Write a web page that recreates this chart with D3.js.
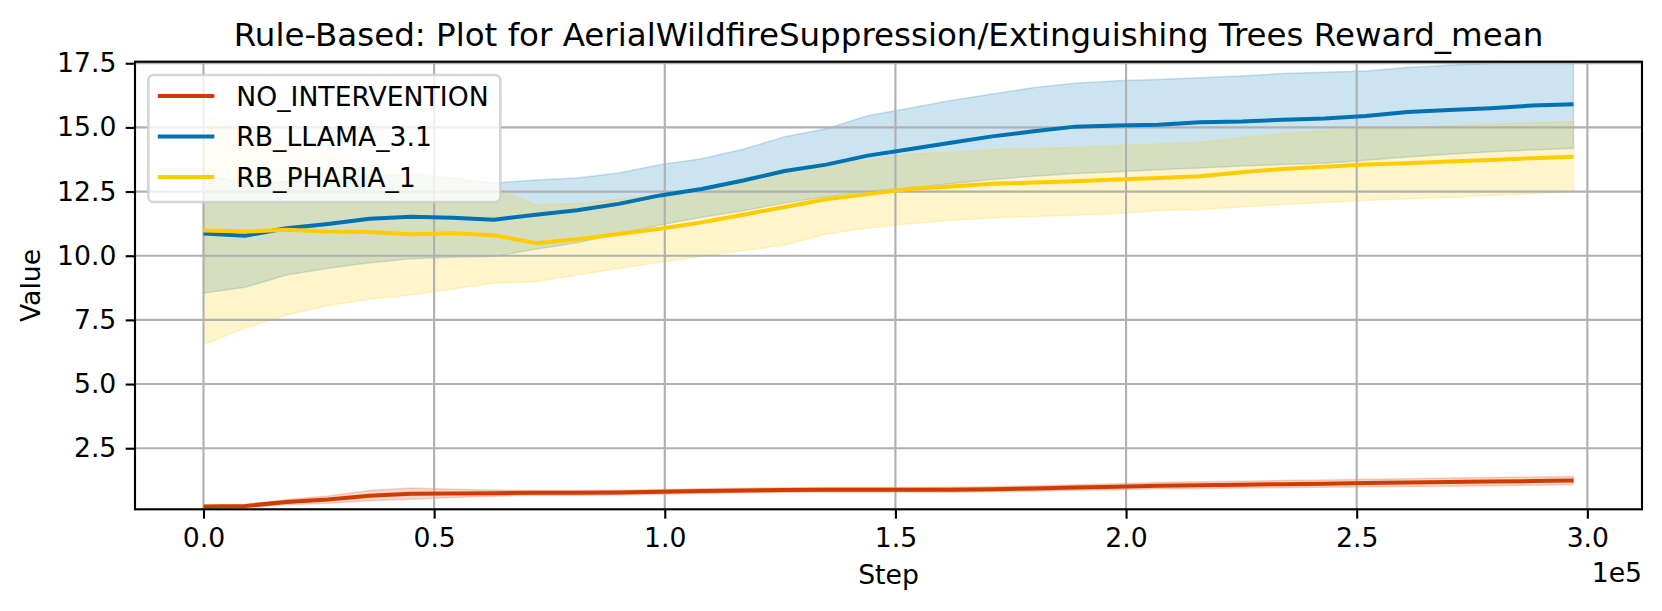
<!DOCTYPE html>
<html lang="en">
<head>
    <meta charset="UTF-8">
    <title>Rule-Based Reward_mean</title>
    <script src="https://d3js.org/d3.v7.min.js"></script>
</head>

<style>
    body {
        margin: 0;
        padding: 0;
        background: #ffffff;
    }

    svg {
        display: block;
        font-family: "DejaVu Sans", sans-serif;
    }
</style>

<body>
<div class="chart-container"></div>

<script>
  /** DATA */
  var steps = [0, 9000, 18000, 27000, 36000, 45000, 54000, 63000, 72000, 81000,
    90000, 99000, 108000, 117000, 126000, 135000, 144000, 153000, 162000, 171000,
    180000, 189000, 198000, 207000, 216000, 225000, 234000, 243000, 252000, 261000,
    270000, 279000, 288000, 297000];

  var seriesNames = ['NO_INTERVENTION', 'RB_LLAMA_3.1', 'RB_PHARIA_1'];
  var seriesColors = ['#d03c00', '#0072b2', '#ffcc00'];

  var noInterventionMean = [0.23, 0.25, 0.40, 0.50, 0.65, 0.73, 0.74, 0.75, 0.76, 0.76,
    0.77, 0.80, 0.83, 0.85, 0.87, 0.88, 0.88, 0.88, 0.88, 0.90,
    0.93, 0.97, 1.00, 1.04, 1.06, 1.08, 1.10, 1.12, 1.14, 1.16,
    1.18, 1.20, 1.22, 1.24];
  var noInterventionUpper = [0.28, 0.30, 0.50, 0.64, 0.85, 0.95, 0.90, 0.87, 0.85, 0.85,
    0.86, 0.89, 0.92, 0.94, 0.96, 0.97, 0.97, 0.97, 0.98, 1.00,
    1.04, 1.08, 1.12, 1.16, 1.19, 1.21, 1.24, 1.26, 1.29, 1.31,
    1.34, 1.36, 1.38, 1.40];
  var noInterventionLower = [0.18, 0.20, 0.30, 0.36, 0.45, 0.51, 0.58, 0.63, 0.67, 0.67,
    0.68, 0.71, 0.74, 0.76, 0.78, 0.79, 0.79, 0.79, 0.78, 0.80,
    0.82, 0.86, 0.88, 0.92, 0.93, 0.95, 0.96, 0.98, 0.99, 1.01,
    1.02, 1.04, 1.06, 1.08];

  var llamaMean = [10.87, 10.78, 11.07, 11.24, 11.44, 11.52, 11.48, 11.40, 11.60, 11.77,
    12.02, 12.35, 12.60, 12.93, 13.30, 13.55, 13.90, 14.15, 14.40, 14.65,
    14.85, 15.03, 15.07, 15.10, 15.20, 15.23, 15.30, 15.35, 15.44, 15.60,
    15.68, 15.75, 15.85, 15.90];
  var llamaUpper = [13.20, 12.79, 12.89, 12.97, 13.15, 13.16, 13.02, 12.83, 12.95, 13.03,
    13.22, 13.55, 13.78, 14.15, 14.64, 14.95, 15.45, 15.75, 16.05, 16.30,
    16.55, 16.72, 16.82, 16.87, 16.93, 17.00, 17.10, 17.15, 17.20, 17.33,
    17.42, 17.50, 17.58, 17.62];
  var llamaLower = [8.54, 8.77, 9.25, 9.51, 9.73, 9.88, 9.94, 9.97, 10.25, 10.51,
    10.85, 11.20, 11.50, 11.75, 12.05, 12.30, 12.50, 12.65, 12.80, 12.97,
    13.10, 13.20, 13.27, 13.35, 13.42, 13.50, 13.55, 13.60, 13.72, 13.85,
    13.95, 14.05, 14.12, 14.19];

  var phariaMean = [10.98, 10.94, 11.01, 10.94, 10.92, 10.84, 10.88, 10.80, 10.49, 10.64,
    10.85, 11.05, 11.30, 11.60, 11.90, 12.20, 12.40, 12.60, 12.70, 12.80,
    12.85, 12.90, 12.97, 13.03, 13.10, 13.25, 13.38, 13.47, 13.55, 13.60,
    13.67, 13.73, 13.80, 13.86];
  var phariaUpper = [15.43, 14.90, 14.40, 13.90, 13.55, 13.25, 13.06, 12.67, 11.99, 12.03,
    12.20, 12.38, 12.62, 13.00, 13.38, 13.55, 13.72, 13.95, 14.02, 14.13,
    14.17, 14.22, 14.29, 14.35, 14.42, 14.60, 14.76, 14.87, 14.95, 14.98,
    15.06, 15.11, 15.18, 15.23];
  var phariaLower = [6.53, 7.18, 7.69, 8.05, 8.31, 8.47, 8.70, 8.93, 8.99, 9.25,
    9.50, 9.75, 9.98, 10.20, 10.42, 10.85, 11.08, 11.25, 11.38, 11.47,
    11.53, 11.58, 11.65, 11.76, 11.80, 11.90, 12.00, 12.07, 12.15, 12.22,
    12.28, 12.35, 12.42, 12.49];

  var xTicks = [0, 50000, 100000, 150000, 200000, 250000, 300000];
  var yTicks = [2.5, 5.0, 7.5, 10.0, 12.5, 15.0, 17.5];
  var yLimits = [0.12, 17.56];

  /** LAYOUT */
  var width = 1662;
  var height = 611;
  var plotLeft = 135;
  var plotRight = 1642;
  var plotTop = 61.7;
  var plotBottom = 509.3;
  var fontSize = 26.67;
  var tickLength = 9.33;

  /** table of series built from the arrays above */
  var seriesList = [
    { name: seriesNames[0], color: seriesColors[0], mean: noInterventionMean, upper: noInterventionUpper, lower: noInterventionLower },
    { name: seriesNames[1], color: seriesColors[1], mean: llamaMean, upper: llamaUpper, lower: llamaLower },
    { name: seriesNames[2], color: seriesColors[2], mean: phariaMean, upper: phariaUpper, lower: phariaLower }
  ];

  var svg = d3.select('.chart-container')
    .append('svg')
    .attr('width', width)
    .attr('height', height);

  /** scales: matplotlib style 5% margin on x */
  var stepMin = d3.min(steps);
  var stepMax = d3.max(steps);
  var margin = (stepMax - stepMin) * 0.05;
  var x = d3.scaleLinear()
    .domain([stepMin - margin, stepMax + margin])
    .range([plotLeft, plotRight]);
  var y = d3.scaleLinear()
    .domain(yLimits)
    .range([plotBottom, plotTop]);

  svg.append('defs').append('clipPath')
    .attr('id', 'plot-clip')
    .append('rect')
    .attr('x', plotLeft)
    .attr('y', plotTop)
    .attr('width', plotRight - plotLeft)
    .attr('height', plotBottom - plotTop);

  /** shaded bands */
  var area = d3.area()
    .x(function (d) { return x(d.step); })
    .y0(function (d) { return y(d.lower); })
    .y1(function (d) { return y(d.upper); });

  var line = d3.line()
    .x(function (d) { return x(d.step); })
    .y(function (d) { return y(d.mean); });

  function rows(s) {
    return steps.map(function (step, i) {
      return { step: step, mean: s.mean[i], upper: s.upper[i], lower: s.lower[i] };
    });
  }

  svg.append('g')
    .attr('clip-path', 'url(#plot-clip)')
    .selectAll('path')
    .data(seriesList)
    .enter().append('path')
    .attr('d', function (s) { return area(rows(s)); })
    .attr('fill', function (s) { return s.color; })
    .attr('fill-opacity', 0.2)
    .attr('stroke', function (s) { return s.color; })
    .attr('stroke-opacity', 0.2)
    .attr('stroke-width', 1.5);

  /** grid */
  var grid = svg.append('g').attr('class', 'grid');
  grid.selectAll('line.vx')
    .data(xTicks)
    .enter().append('line')
    .attr('x1', function (d) { return x(d); })
    .attr('x2', function (d) { return x(d); })
    .attr('y1', plotTop)
    .attr('y2', plotBottom)
    .attr('stroke', '#b0b0b0')
    .attr('stroke-width', 2.13);
  grid.selectAll('line.hy')
    .data(yTicks)
    .enter().append('line')
    .attr('x1', plotLeft)
    .attr('x2', plotRight)
    .attr('y1', function (d) { return y(d); })
    .attr('y2', function (d) { return y(d); })
    .attr('stroke', '#b0b0b0')
    .attr('stroke-width', 2.13);

  /** mean lines */
  svg.append('g')
    .attr('clip-path', 'url(#plot-clip)')
    .selectAll('path')
    .data(seriesList)
    .enter().append('path')
    .attr('d', function (s) { return line(rows(s)); })
    .attr('fill', 'none')
    .attr('stroke', function (s) { return s.color; })
    .attr('stroke-width', 4)
    .attr('stroke-linejoin', 'round');

  /** axes */
  var xAxis = d3.axisBottom(x)
    .tickValues(xTicks)
    .tickSize(tickLength)
    .tickPadding(9.33)
    .tickFormat(function (d) { return (d / 1e5).toFixed(1); });
  var yAxis = d3.axisLeft(y)
    .tickValues(yTicks)
    .tickSize(tickLength)
    .tickPadding(9.33)
    .tickFormat(function (d) { return d.toFixed(1); });

  var xAxisGroup = svg.append('g')
    .attr('transform', 'translate(0,' + plotBottom + ')')
    .call(xAxis);
  var yAxisGroup = svg.append('g')
    .attr('transform', 'translate(' + plotLeft + ',0)')
    .call(yAxis);

  [xAxisGroup, yAxisGroup].forEach(function (g) {
    g.select('.domain').remove();
    g.selectAll('.tick line').attr('stroke', '#000').attr('stroke-width', 2.13);
    g.selectAll('.tick text')
      .attr('fill', '#000')
      .style('font-size', fontSize + 'px')
      .style('font-family', '"DejaVu Sans", sans-serif');
  });

  /** spines */
  svg.append('rect')
    .attr('x', plotLeft)
    .attr('y', plotTop)
    .attr('width', plotRight - plotLeft)
    .attr('height', plotBottom - plotTop)
    .attr('fill', 'none')
    .attr('stroke', '#000')
    .attr('stroke-width', 2.13);

  /** title and labels */
  svg.append('text')
    .attr('x', (plotLeft + plotRight) / 2)
    .attr('y', 45.5)
    .attr('text-anchor', 'middle')
    .style('font-size', '32.5px')
    .text('Rule-Based: Plot for AerialWildfireSuppression/Extinguishing Trees Reward_mean');

  svg.append('text')
    .attr('x', (plotLeft + plotRight) / 2)
    .attr('y', 584)
    .attr('text-anchor', 'middle')
    .style('font-size', fontSize + 'px')
    .text('Step');

  svg.append('text')
    .attr('transform', 'translate(40,' + (plotTop + plotBottom) / 2 + ') rotate(-90)')
    .attr('text-anchor', 'middle')
    .style('font-size', fontSize + 'px')
    .text('Value');

  svg.append('text')
    .attr('x', plotRight)
    .attr('y', 582)
    .attr('text-anchor', 'end')
    .style('font-size', fontSize + 'px')
    .text('1e5');

  /** legend */
  var legendLeft = plotLeft + 13.3;
  var legendTop = plotTop + 13.3;
  var legendRowHeight = 40.5;

  var legend = svg.append('g')
    .attr('transform', 'translate(' + legendLeft + ',' + legendTop + ')');

  legend.append('rect')
    .attr('width', 352)
    .attr('height', 127)
    .attr('rx', 5.3)
    .attr('fill', '#ffffff')
    .attr('fill-opacity', 0.8)
    .attr('stroke', '#cccccc')
    .attr('stroke-opacity', 0.8)
    .attr('stroke-width', 2.67);

  var legendItem = legend.selectAll('g.item')
    .data(seriesList)
    .enter().append('g')
    .attr('class', 'item')
    .attr('transform', function (_, i) {
      return 'translate(0,' + (21 + i * legendRowHeight) + ')';
    });

  legendItem.append('line')
    .attr('x1', 9.5)
    .attr('x2', 66)
    .attr('stroke', function (s) { return s.color; })
    .attr('stroke-width', 4);

  legendItem.append('text')
    .attr('x', 88)
    .attr('dy', '0.36em')
    .style('font-size', fontSize + 'px')
    .text(function (s) { return s.name; });
</script>
</body>
</html>
